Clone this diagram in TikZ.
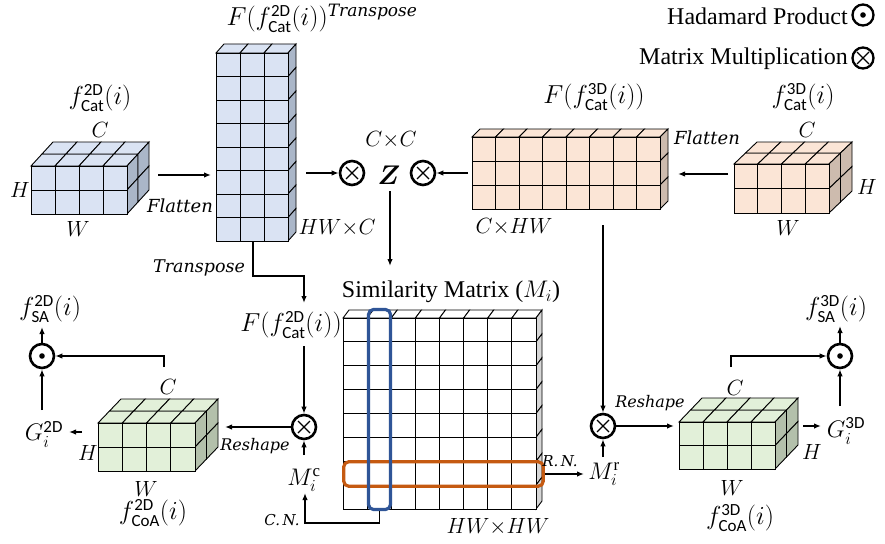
\RequirePackage{fix-cm}
\documentclass[tikz,border=0pt]{standalone}
\usepackage{amsmath,bm}
\usepackage{fontspec}
\setmainfont{Liberation Serif}
\newfontfamily\sfcar{Carlito}
\newfontfamily\wideit{DejaVu Serif}
\usetikzlibrary{arrows.meta}
\definecolor{bluef}{HTML}{DAE3F3}
\definecolor{blues}{HTML}{AAB6C8}
\definecolor{orf}{HTML}{FBE5D6}
\definecolor{ors}{HTML}{CDBBAE}
\definecolor{grf}{HTML}{E2F0D9}
\definecolor{grs}{HTML}{B3C0AB}
\definecolor{sims}{HTML}{D6D6D6}
\definecolor{selblue}{HTML}{2F5597}
\definecolor{selor}{HTML}{C55A11}
% #1 x0, #2 y0 (front top-left), #3 cols, #4 rows, #5 cell w, #6 cell h, #7 depth layers, #8 dx, #9 dy per layer
\newcommand{\cuboid}[9]{%
  \foreach \i in {1,...,#3}{\foreach \k in {1,...,#7}{%
    \filldraw[cellline,fill=\frontcol] ({#1+(\i-1)*(#5)+(\k-1)*(#8)},{#2+(\k-1)*(#9)}) -- ++(#5,0) -- ++(#8,#9) -- ++(-#5,0) -- cycle;}}
  \foreach \j in {1,...,#4}{\foreach \k in {1,...,#7}{%
    \filldraw[cellline,fill=\sidecol] ({#1+(#3)*(#5)+(\k-1)*(#8)},{#2+(\j-1)*(#6)+(\k-1)*(#9)}) -- ++(0,#6) -- ++(#8,#9) -- ++(0,-#6) -- cycle;}}
  \foreach \i in {1,...,#3}{\foreach \j in {1,...,#4}{%
    \filldraw[cellline,fill=\frontcol] ({#1+(\i-1)*(#5)},{#2+(\j-1)*(#6)}) rectangle ++(#5,#6);}}
}
\newcommand{\sfx}[1]{\hbox{\sfcar\fontsize{17}{17}\selectfont #1}}
\newcommand{\itw}[1]{\hbox{\wideit\itshape\fontsize{17}{17}\selectfont #1}}
\tikzset{
  cellline/.style={draw=black,line width=0.9pt},
  opc/.style={circle,draw,line width=2.6pt,minimum size=24pt,inner sep=0pt,fill=white},
  otimesop/.style={opc,path picture={\draw[black,line width=1.1pt]
      ([shift={(-6pt,-6pt)}]path picture bounding box.center) -- ([shift={(6pt,6pt)}]path picture bounding box.center)
      ([shift={(-6pt,6pt)}]path picture bounding box.center) -- ([shift={(6pt,-6pt)}]path picture bounding box.center);}},
  odotop/.style={opc,path picture={\fill[black] (path picture bounding box.center) circle (2.8pt);}},
  arr/.style={-{Latex[length=7pt,width=5.5pt]},line width=1.5pt},
  lbl/.style={inner sep=0pt},
  flbl/.style={inner sep=0pt,font=\fontsize{26}{30}\selectfont},
  glbl/.style={inner sep=0pt,font=\fontsize{24}{28}\selectfont},
  txt/.style={inner sep=0pt,font=\fontsize{24}{28}\selectfont},
  itl/.style={inner sep=0pt,font=\wideit\itshape\fontsize{16}{19}\selectfont},
  small/.style={inner sep=0pt,font=\wideit\itshape\fontsize{15}{18}\selectfont},
}
\begin{document}
\begin{tikzpicture}[x=1pt,y=-1pt,font=\fontsize{22}{26}\selectfont]
\useasboundingbox (0,0) rectangle (885,543);

% ---------- blocks ----------
\def\frontcol{bluef}\def\sidecol{blues}
\cuboid{31}{166}{4}{2}{24}{24}{2}{11}{-12}
\cuboid{216}{53}{3}{8}{24}{23.5}{1}{8}{-9}
\def\frontcol{orf}\def\sidecol{ors}
\cuboid{472}{137}{8}{3}{23.5}{24}{1}{8}{-8}
\cuboid{734}{164}{4}{2}{23.75}{24.5}{2}{11.5}{-11}
\def\frontcol{grf}\def\sidecol{grs}
\cuboid{98}{423}{4}{2}{24.25}{24}{2}{11.5}{-12}
\cuboid{679}{422}{4}{2}{24}{23.5}{2}{11.5}{-12}
\def\frontcol{white}\def\sidecol{sims}
\cuboid{343}{318}{8}{8}{24.125}{23.875}{1}{6}{-8}

% selection rectangles
\node[draw=selor,line width=3.2pt,rounded corners=5pt,minimum width=199.5pt,minimum height=24.5pt,inner sep=0pt] (rowsel) at (443.5,474) {};
\node[draw=selblue,line width=3.2pt,rounded corners=5pt,minimum width=22pt,minimum height=200pt,inner sep=0pt] (colsel) at (379.5,409.5) {};

% ---------- operators ----------
\node[otimesop] (mA) at (352,173) {};
\node[lbl,font=\fontsize{27}{30}\selectfont] (Z) at (389,175) {$\bm{Z}$};
\node[otimesop] (mB) at (423,173) {};
\node[otimesop] (mC) at (304,427) {};
\node[otimesop] (mD) at (603,426) {};
\node[odotop] (hL) at (42,356) {};
\node[odotop] (hR) at (840,356) {};

% legend
\node[odotop,minimum size=21pt,line width=2.3pt] (lgH) at (863,15) {};
\node[otimesop,minimum size=21pt,line width=2.3pt] (lgM) at (863,58) {};
\node[txt,anchor=east] (lgHt) at (848,16) {Hadamard Product};
\node[txt,anchor=east] (lgMt) at (848,59) {Matrix Multiplication};

% ---------- labels ----------
\node[flbl] (tCat2D) at (100,98) {$f^{\sfx{2D}}_{\sfx{Cat}}(i)$};
\node[lbl] (tC1) at (100,130) {$C$};
\node[lbl] (tH1) at (20,190) {$H$};
\node[lbl] (tW1) at (78,229) {$W$};
\node[itl,font=\wideit\itshape\fontsize{18}{21}\selectfont] (tFl1) at (180,206) {Flatten};
\node[flbl] (tTop) at (322,18) {$F(f^{\sfx{2D}}_{\sfx{Cat}}(i))^{\itw{Transpose}}$};
\node[lbl] (tHWC) at (337,228) {$HW{\times}C$};
\node[lbl] (tCC) at (391,140) {$C{\times}C$};
\node[small,font=\wideit\itshape\fontsize{17.5}{20}\selectfont] (tTr) at (199,268) {Transpose};
\node[flbl] (tF3) at (594,97) {$F(f^{\sfx{3D}}_{\sfx{Cat}}(i))$};
\node[flbl] (tCat3D) at (803,97) {$f^{\sfx{3D}}_{\sfx{Cat}}(i)$};
\node[lbl] (tC2) at (807,130) {$C$};
\node[itl,font=\wideit\itshape\fontsize{18}{21}\selectfont] (tFl2) at (707,138) {Flatten};
\node[lbl] (tH2) at (867,187) {$H$};
\node[lbl] (tW2) at (788,228) {$W$};
\node[lbl] (tCHW) at (514,227) {$C{\times}HW$};
\node[txt] (tSim) at (451,292) {Similarity Matrix ($M_i$)};
\node[lbl] (tHWHW) at (498,527) {$HW{\times}HW$};
\node[flbl,anchor=east] (tF2) at (342,325) {$F(f^{\sfx{2D}}_{\sfx{Cat}}(i))$};
% lower left
\node[flbl] (tSA2) at (50,309) {$f^{\sfx{2D}}_{\sfx{SA}}(i)$};
\node[glbl] (tG2) at (44,434) {$G^{\sfx{2D}}_i$};
\node[lbl] (tC3) at (168,387) {$C$};
\node[lbl] (tH3) at (88,453) {$H$};
\node[lbl] (tW3) at (146,489) {$W$};
\node[flbl] (tCoA2) at (153,513) {$f^{\sfx{2D}}_{\sfx{CoA}}(i)$};
\node[itl] (tRs1) at (255,446) {Reshape};
\node[glbl] (tMc) at (304,480) {$M^{\mathrm{c}}_i$};
\node[small] (tCN) at (282,520) {C.\,N.};
% lower right
\node[small] (tRN) at (560,461) {R.\,N.};
\node[glbl] (tMr) at (604,474) {$M^{\mathrm{r}}_i$};
\node[itl] (tRs2) at (650,403) {Reshape};
\node[lbl] (tC4) at (735,388) {$C$};
\node[lbl] (tH4) at (812,452) {$H$};
\node[lbl] (tW4) at (732,488) {$W$};
\node[flbl] (tCoA3) at (740,518) {$f^{\sfx{3D}}_{\sfx{CoA}}(i)$};
\node[glbl] (tG3) at (846,431) {$G^{\sfx{3D}}_i$};
\node[flbl] (tSA3) at (836,309) {$f^{\sfx{3D}}_{\sfx{SA}}(i)$};

% ---------- connectors ----------
\coordinate (cLout) at (158,175); \coordinate (tallIn) at (211,175);
\draw[arr] (cLout) -- (tallIn);
\coordinate (tallOut) at (306,173);
\draw[arr] (tallOut) -- (mA);
\coordinate (orOut) at (468,173);
\draw[arr] (orOut) -- (mB);
\coordinate (cRout) at (728,174); \coordinate (orIn) at (678,174);
\draw[arr] (cRout) -- (orIn);
\coordinate (zTop) at (390,191); \coordinate (simIn) at (390,266);
\draw[arr] (zTop) -- (simIn);
\coordinate (tallBot) at (253,241); \coordinate (tturn) at (253,276); \coordinate (F2In) at (304,303);
\draw[arr] (tallBot) -- (tturn) -| (F2In);
\coordinate (F2Out) at (304,346);
\draw[arr] (F2Out) -- (mC);
\coordinate (gLin) at (225,427);
\draw[arr] (mC) -- (gLin);
\coordinate (McOut) at (304,455);
\draw[arr] (McOut) -- (mC);
\coordinate (cnCorner) at (305,523); \coordinate (McIn) at (305,493);
\draw[arr] (colsel.south) |- (cnCorner) -- (McIn);
\coordinate (MrIn) at (584,474);
\draw[arr] (rowsel.east) -- (MrIn);
\coordinate (MrOut) at (603,457);
\draw[arr] (MrOut) -- (mD);
\coordinate (orBot) at (603,225);
\draw[arr] (orBot) -- (mD);
\coordinate (gRin) at (674,426);
\draw[arr] (mD) -- (gRin);
\coordinate (gRout) at (803,426); \coordinate (G3In) at (821,426);
\draw[arr] (gRout) -- (G3In);
\coordinate (G3Out) at (840,406);
\draw[arr] (G3Out) -- (hR);
\coordinate (gRtop) at (731,367);
\draw[arr] (gRtop) |- (hR);
\coordinate (SA3In) at (840,326);
\draw[arr] (hR) -- (SA3In);
\coordinate (gLtop) at (164,367);
\draw[arr] (gLtop) |- (hL);
\coordinate (gLout) at (82,432); \coordinate (G2In) at (69,432);
\draw[arr] (gLout) -- (G2In);
\coordinate (G2Out) at (42,410);
\draw[arr] (G2Out) -- (hL);
\coordinate (SA2In) at (42,327);
\draw[arr] (hL) -- (SA2In);
\end{tikzpicture}
\end{document}
